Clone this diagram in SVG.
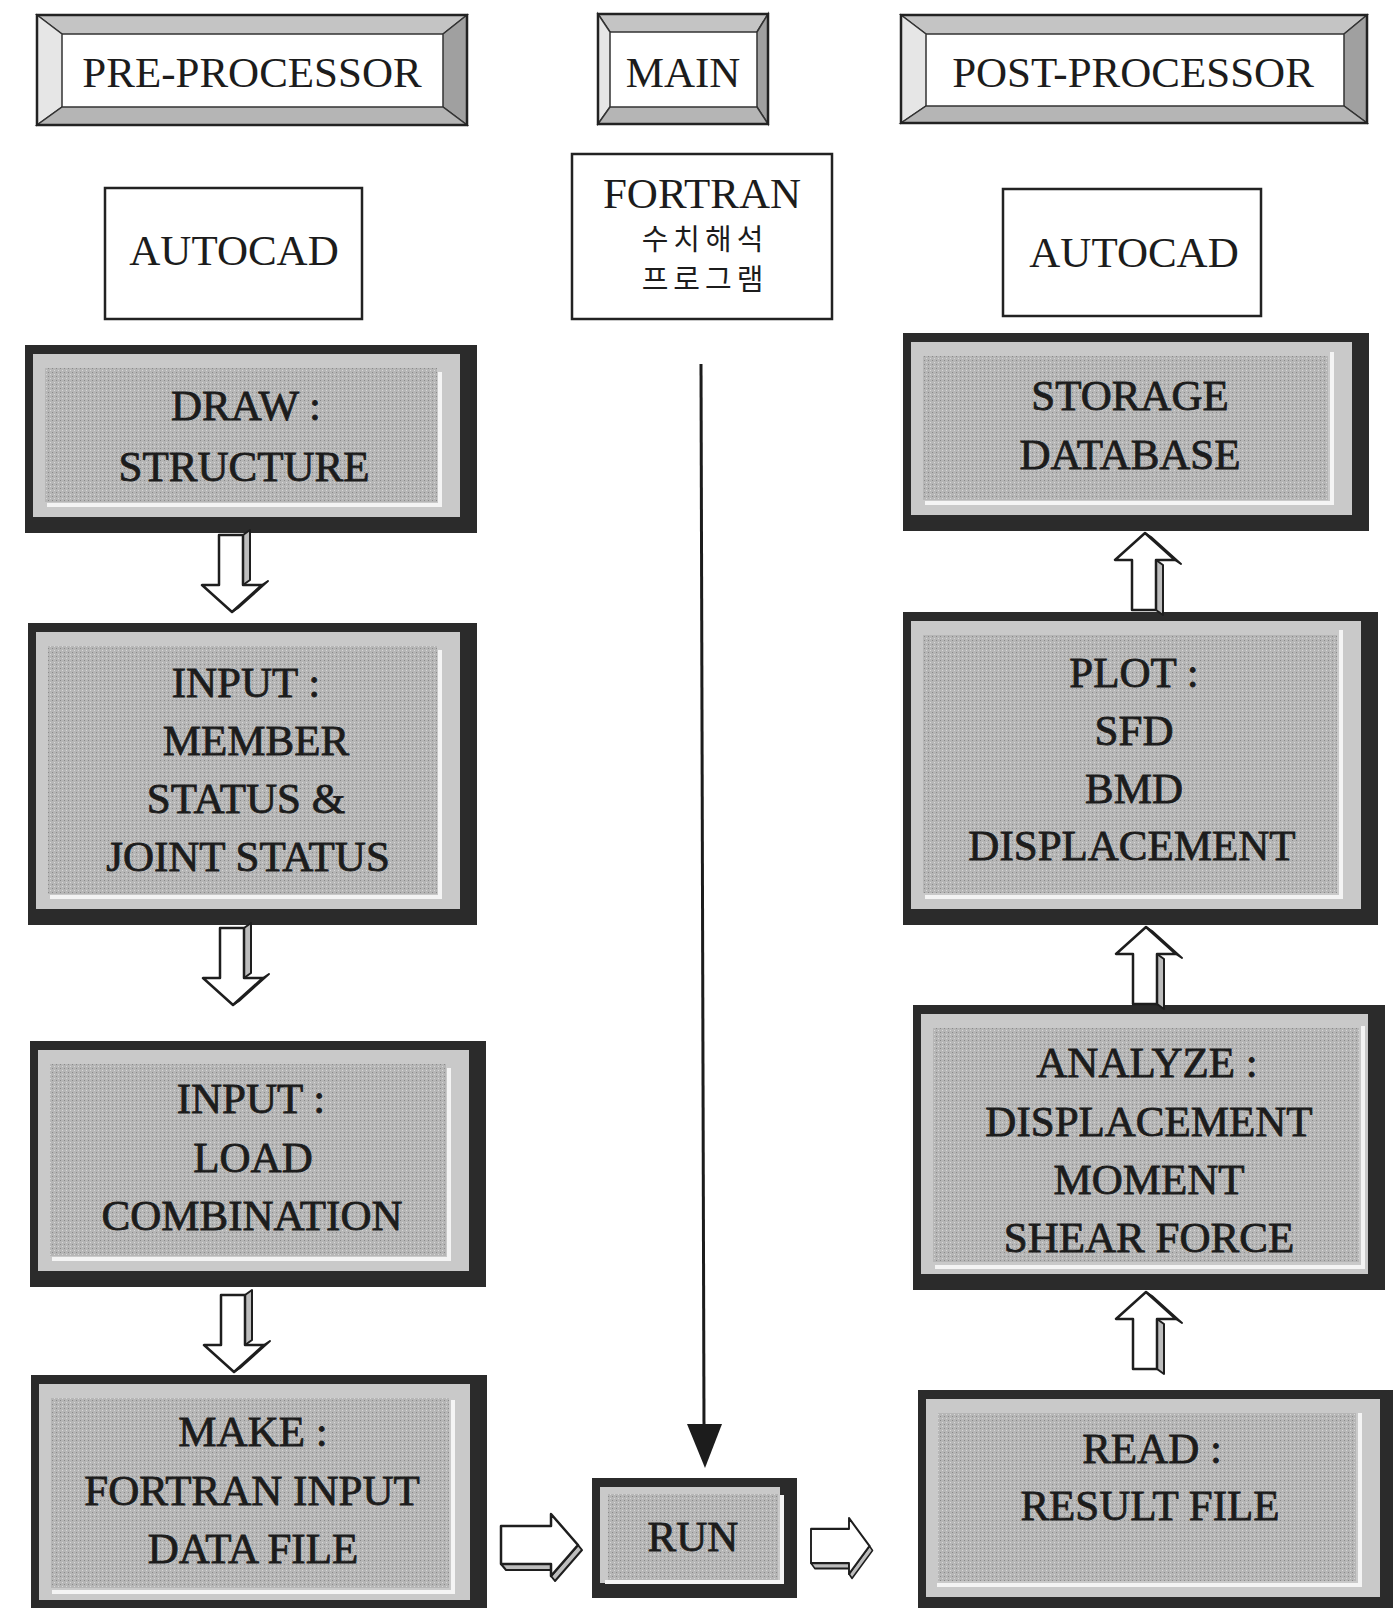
<svg xmlns="http://www.w3.org/2000/svg" width="1393" height="1608" viewBox="0 0 1393 1608">
<style>
.t{font-family:"Liberation Serif","Times New Roman",serif;font-size:43px;text-anchor:middle;fill:#1c1c1c}
.g{stroke:#1c1c1c;stroke-width:0.8}
.k{font-family:"Noto Sans CJK KR",sans-serif;font-size:29px;text-anchor:middle;fill:#1c1c1c;letter-spacing:5px}
.ob{fill:none;stroke:#222;stroke-width:2.5}
.bt{fill:#c4c4c4;stroke:#333;stroke-width:1.5}
.bl{fill:#e6e6e6;stroke:#333;stroke-width:1.5}
.br{fill:#a0a0a0;stroke:#333;stroke-width:1.5}
.bb{fill:#b5b5b5;stroke:#333;stroke-width:1.5}
.wb{fill:#fff;stroke:#222;stroke-width:2.5}
.dk{fill:#2b2b2b}
.lg{fill:#c9c9c9}
.md{fill:url(#dots)}
.hl{fill:none;stroke:#f4f4f4;stroke-width:4}
.ar{fill:#fff;stroke:#1e1e1e;stroke-width:2.5;stroke-linejoin:round}
.as{fill:#bdbdbd;stroke:#1e1e1e;stroke-width:2;stroke-linejoin:round}
</style>
<defs>
<pattern id="dots" width="4" height="4" patternUnits="userSpaceOnUse">
<rect width="4" height="4" fill="#b6b6b6"/>
<rect width="1" height="1" fill="#8a8a8a"/>
<rect x="2" y="2" width="1" height="1" fill="#d8d8d8"/>
</pattern>
<g id="down">
<polygon class="as" points="11,0 18,-5 18,45 11,50"/>
<polygon class="as" points="30,50 36,46 6,73 0,77"/>
<polygon class="ar" points="-13,0 11,0 11,50 30,50 0,77 -30,50 -13,50"/>
</g>
<g id="right">
<polygon class="as" points="0,19 5,25 50,25 50,19"/>
<polygon class="as" points="77,0 81,5 54,36 50,31"/>
<polygon class="ar" points="0,-19 50,-19 50,-31 77,0 50,31 50,19 0,19"/>
</g>
</defs>
<rect width="1393" height="1608" fill="#fff"/>

<g id="pre-processor">
<rect x="37" y="15" width="430" height="110" fill="#fff"/>
<polygon class="bt" points="37,15 467,15 443,34 62,34"/>
<polygon class="bl" points="37,15 62,34 62,107 37,125"/>
<polygon class="br" points="467,15 467,125 443,107 443,34"/>
<polygon class="bb" points="37,125 467,125 443,107 62,107"/>
<rect class="ob" x="37" y="15" width="430" height="110"/>
<text class="t" x="252" y="87">PRE-PROCESSOR</text>
</g>
<g id="main">
<rect x="598" y="14" width="170" height="110" fill="#fff"/>
<polygon class="bt" points="598,14 768,14 757,32 610,32"/>
<polygon class="bl" points="598,14 610,32 610,107 598,124"/>
<polygon class="br" points="768,14 768,124 757,107 757,32"/>
<polygon class="bb" points="598,124 768,124 757,107 610,107"/>
<rect class="ob" x="598" y="14" width="170" height="110"/>
<text class="t" x="683" y="87">MAIN</text>
</g>
<g id="post-processor">
<rect x="901" y="15" width="466" height="108" fill="#fff"/>
<polygon class="bt" points="901,15 1367,15 1344,34 926,34"/>
<polygon class="bl" points="901,15 926,34 926,106 901,123"/>
<polygon class="br" points="1367,15 1367,123 1344,106 1344,34"/>
<polygon class="bb" points="901,123 1367,123 1344,106 926,106"/>
<rect class="ob" x="901" y="15" width="466" height="108"/>
<text class="t" x="1133" y="87">POST-PROCESSOR</text>
</g>

<g id="autocad-left">
<rect class="wb" x="105" y="188" width="257" height="131"/>
<text class="t" x="234" y="265">AUTOCAD</text>
</g>
<g id="fortran">
<rect class="wb" x="572" y="154" width="260" height="165"/>
<text class="t" x="702" y="208">FORTRAN</text>
<text class="k" x="705" y="250">수치해석</text>
<text class="k" x="705" y="290">프로그램</text>
</g>
<g id="autocad-right">
<rect class="wb" x="1003" y="189" width="258" height="127"/>
<text class="t" x="1134" y="267">AUTOCAD</text>
</g>

<g id="draw-structure">
<rect class="dk" x="25" y="345" width="452" height="188"/>
<rect class="lg" x="33" y="354" width="427" height="163"/>
<rect class="md" x="45" y="368" width="392" height="134"/>
<polyline class="hl" points="440,372 440,505 47,505"/>
<text class="t g" x="246" y="420">DRAW :</text>
<text class="t g" x="244" y="481">STRUCTURE</text>
</g>
<g id="input-member">
<rect class="dk" x="28" y="623" width="449" height="302"/>
<rect class="lg" x="36" y="632" width="424" height="277"/>
<rect class="md" x="48" y="646" width="389" height="248"/>
<polyline class="hl" points="440,650 440,897 50,897"/>
<text class="t g" x="246" y="697">INPUT :</text>
<text class="t g" x="256" y="755">MEMBER</text>
<text class="t g" x="246" y="813">STATUS &amp;</text>
<text class="t g" x="248" y="871">JOINT STATUS</text>
</g>
<g id="input-load">
<rect class="dk" x="30" y="1041" width="456" height="246"/>
<rect class="lg" x="38" y="1050" width="431" height="221"/>
<rect class="md" x="50" y="1064" width="396" height="192"/>
<polyline class="hl" points="449,1068 449,1259 52,1259"/>
<text class="t g" x="251" y="1113">INPUT :</text>
<text class="t g" x="253" y="1172">LOAD</text>
<text class="t g" x="252" y="1230">COMBINATION</text>
</g>
<g id="make-input">
<rect class="dk" x="31" y="1375" width="456" height="240"/>
<rect class="lg" x="39" y="1384" width="431" height="216"/>
<rect class="md" x="51" y="1398" width="398" height="190"/>
<polyline class="hl" points="453,1400 453,1592 52,1592"/>
<text class="t g" x="253" y="1446">MAKE :</text>
<text class="t g" x="252" y="1505">FORTRAN INPUT</text>
<text class="t g" x="253" y="1563">DATA FILE</text>
</g>
<g id="run">
<rect class="dk" x="592" y="1478" width="205" height="120"/>
<rect class="lg" x="600" y="1487" width="180" height="96"/>
<rect class="md" x="608" y="1494" width="170" height="86"/>
<polyline class="hl" points="782,1495 782,1582 605,1582"/>
<text class="t g" x="693" y="1551">RUN</text>
</g>
<g id="storage-database">
<rect class="dk" x="903" y="333" width="466" height="198"/>
<rect class="lg" x="911" y="342" width="441" height="173"/>
<rect class="md" x="923" y="356" width="405" height="144"/>
<polyline class="hl" points="1332,352 1332,503 925,503"/>
<text class="t g" x="1130" y="410">STORAGE</text>
<text class="t g" x="1130" y="469">DATABASE</text>
</g>
<g id="plot">
<rect class="dk" x="903" y="612" width="475" height="313"/>
<rect class="lg" x="911" y="621" width="450" height="288"/>
<rect class="md" x="923" y="635" width="414" height="258"/>
<polyline class="hl" points="1341,630 1341,897 925,897"/>
<text class="t g" x="1134" y="687">PLOT :</text>
<text class="t g" x="1134" y="745">SFD</text>
<text class="t g" x="1134" y="803">BMD</text>
<text class="t g" x="1132" y="860">DISPLACEMENT</text>
</g>
<g id="analyze">
<rect class="dk" x="913" y="1005" width="472" height="285"/>
<rect class="lg" x="921" y="1014" width="447" height="260"/>
<rect class="md" x="933" y="1028" width="426" height="234"/>
<polyline class="hl" points="1363,1026 1363,1267 935,1267"/>
<text class="t g" x="1147" y="1077">ANALYZE :</text>
<text class="t g" x="1149" y="1136">DISPLACEMENT</text>
<text class="t g" x="1149" y="1194">MOMENT</text>
<text class="t g" x="1149" y="1252">SHEAR FORCE</text>
</g>
<g id="read-result">
<rect class="dk" x="918" y="1390" width="480" height="222"/>
<rect class="lg" x="926" y="1399" width="454" height="198"/>
<rect class="md" x="938" y="1413" width="418" height="168"/>
<polyline class="hl" points="1360,1413 1360,1585 937,1585"/>
<text class="t g" x="1152" y="1463">READ :</text>
<text class="t g" x="1150" y="1520">RESULT FILE</text>
</g>

<g id="connectors">
<line x1="701" y1="364" x2="704" y2="1428" stroke="#1c1c1c" stroke-width="3"/>
<polygon points="687,1424 722,1424 705,1468" fill="#1c1c1c"/>
<use href="#down" transform="translate(232,535)"/>
<use href="#down" transform="translate(233,928)"/>
<use href="#down" transform="translate(234,1295)"/>
<use href="#down" transform="translate(1145,610) scale(1,-1)"/>
<use href="#down" transform="translate(1146,1004) scale(1,-1)"/>
<use href="#down" transform="translate(1146,1369) scale(1,-1)"/>
<use href="#right" transform="translate(501,1545)"/>
<use href="#right" transform="translate(811,1546) scale(0.76,0.9)"/>
</g>
</svg>
